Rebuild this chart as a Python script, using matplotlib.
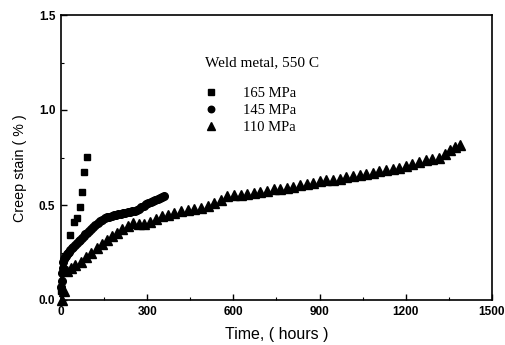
import matplotlib
matplotlib.use("Agg")
import matplotlib.pyplot as plt
from matplotlib.ticker import MultipleLocator

# 165 MPa (squares)
t165 = [0, 31, 45, 55, 66, 73, 81, 90]
e165 = [0.05, 0.34, 0.41, 0.43, 0.49, 0.57, 0.675, 0.755]

# 145 MPa (circles)
t145 = [0, 2, 4, 6, 8, 10, 13, 16, 20, 24, 28, 33, 38, 43, 49, 55, 61, 67, 73, 79,
        85, 92, 99, 106, 113, 120, 128, 136, 144, 152, 160, 168, 176, 184, 192, 200,
        208, 216, 224, 232, 240, 248, 256, 264, 272, 280, 288, 296, 304, 312, 320,
        328, 336, 344, 352, 358]
e145 = [0.07, 0.10, 0.14, 0.17, 0.20, 0.215, 0.225, 0.232, 0.24, 0.247, 0.255, 0.265,
        0.272, 0.28, 0.29, 0.30, 0.31, 0.318, 0.327, 0.336, 0.345, 0.355, 0.365, 0.375,
        0.386, 0.395, 0.405, 0.415, 0.422, 0.43, 0.435, 0.438, 0.442, 0.445, 0.448,
        0.452, 0.455, 0.458, 0.46, 0.462, 0.465, 0.467, 0.47, 0.473, 0.48, 0.488,
        0.496, 0.503, 0.51, 0.515, 0.52, 0.525, 0.532, 0.538, 0.543, 0.547]

# 110 MPa (triangles)
t110 = [2, 12, 22, 35, 50, 68, 88, 106, 124, 142, 160, 178, 196, 214, 232, 250, 270,
        290, 310, 330, 350, 372, 395, 418, 441, 464, 487, 510, 533, 556, 579, 602, 625,
        648, 671, 694, 717, 740, 763, 786, 809, 832, 855, 878, 901, 924, 947, 970, 993,
        1016, 1039, 1062, 1085, 1108, 1131, 1154, 1177, 1200, 1223, 1246, 1269, 1292,
        1315, 1338, 1355, 1370, 1390]
e110 = [0.00, 0.05, 0.155, 0.17, 0.185, 0.2, 0.225, 0.245, 0.275, 0.295, 0.315, 0.335,
        0.355, 0.375, 0.39, 0.405, 0.40, 0.402, 0.41, 0.425, 0.44, 0.45, 0.46, 0.468,
        0.474, 0.48, 0.486, 0.496, 0.51, 0.528, 0.545, 0.552, 0.553, 0.557, 0.563,
        0.568, 0.576, 0.582, 0.586, 0.591, 0.597, 0.604, 0.61, 0.617, 0.624, 0.629,
        0.634, 0.638, 0.645, 0.654, 0.66, 0.665, 0.671, 0.677, 0.682, 0.689, 0.697,
        0.706, 0.716, 0.727, 0.738, 0.744, 0.75, 0.77, 0.79, 0.805, 0.815]

labels = ["165 MPa", "145 MPa", "110 MPa"]
legend_title = "Weld metal, 550 C"
xticks = [0, 300, 600, 900, 1200, 1500]
yticks = [0.0, 0.5, 1.0, 1.5]

fig = plt.figure(figsize=(5.06, 3.45), dpi=100)
ax = fig.add_axes([61/506, 1-300/345, (492-61)/506, (300-15)/345])

ax.plot(t165, e165, linestyle='none', marker='s', ms=4.6, color='black', label=labels[0], clip_on=False)
ax.plot(t145, e145, linestyle='none', marker='o', ms=5.5, color='black', label=labels[1], clip_on=False)
ax.plot(t110, e110, linestyle='none', marker='^', ms=6.5, color='black', label=labels[2], clip_on=False)

ax.set_xlim(0, 1500)
ax.set_ylim(0, 1.5)
ax.set_xticks(xticks)
ax.set_yticks(yticks)
ax.set_xticklabels([str(v) for v in xticks], fontsize=8.5, fontweight='bold', family='Liberation Sans')
ax.set_yticklabels([f"{v:.1f}" for v in yticks], fontsize=8.5, fontweight='bold', family='Liberation Sans')
ax.xaxis.set_minor_locator(MultipleLocator(150))
ax.yaxis.set_minor_locator(MultipleLocator(0.25))
ax.tick_params(which='major', direction='in', length=4, width=1, pad=4)
ax.tick_params(which='minor', direction='in', length=2, width=0.8)
for s in ax.spines.values():
    s.set_linewidth(1.2)

ax.set_xlabel("Time, ( hours )", fontsize=11.5, family='Liberation Sans')
ax.set_ylabel("Creep stain ( % )", fontsize=10.3, family='Liberation Sans')
ax.xaxis.set_label_coords(0.5, -0.095)
ax.yaxis.set_label_coords(-0.079, 0.463)

ax.text(0.334, 0.832, legend_title, transform=ax.transAxes, ha='left', va='center',
        family='Liberation Serif', fontsize=11)
ax.legend(loc='upper left', bbox_to_anchor=(0.317, 0.772), frameon=False,
          prop={'family': 'Liberation Serif', 'size': 10.5}, markerscale=0.85,
          handlelength=0.9, handletextpad=1.7, labelspacing=0.25, borderpad=0)

fig.savefig("out.png", dpi=100)
